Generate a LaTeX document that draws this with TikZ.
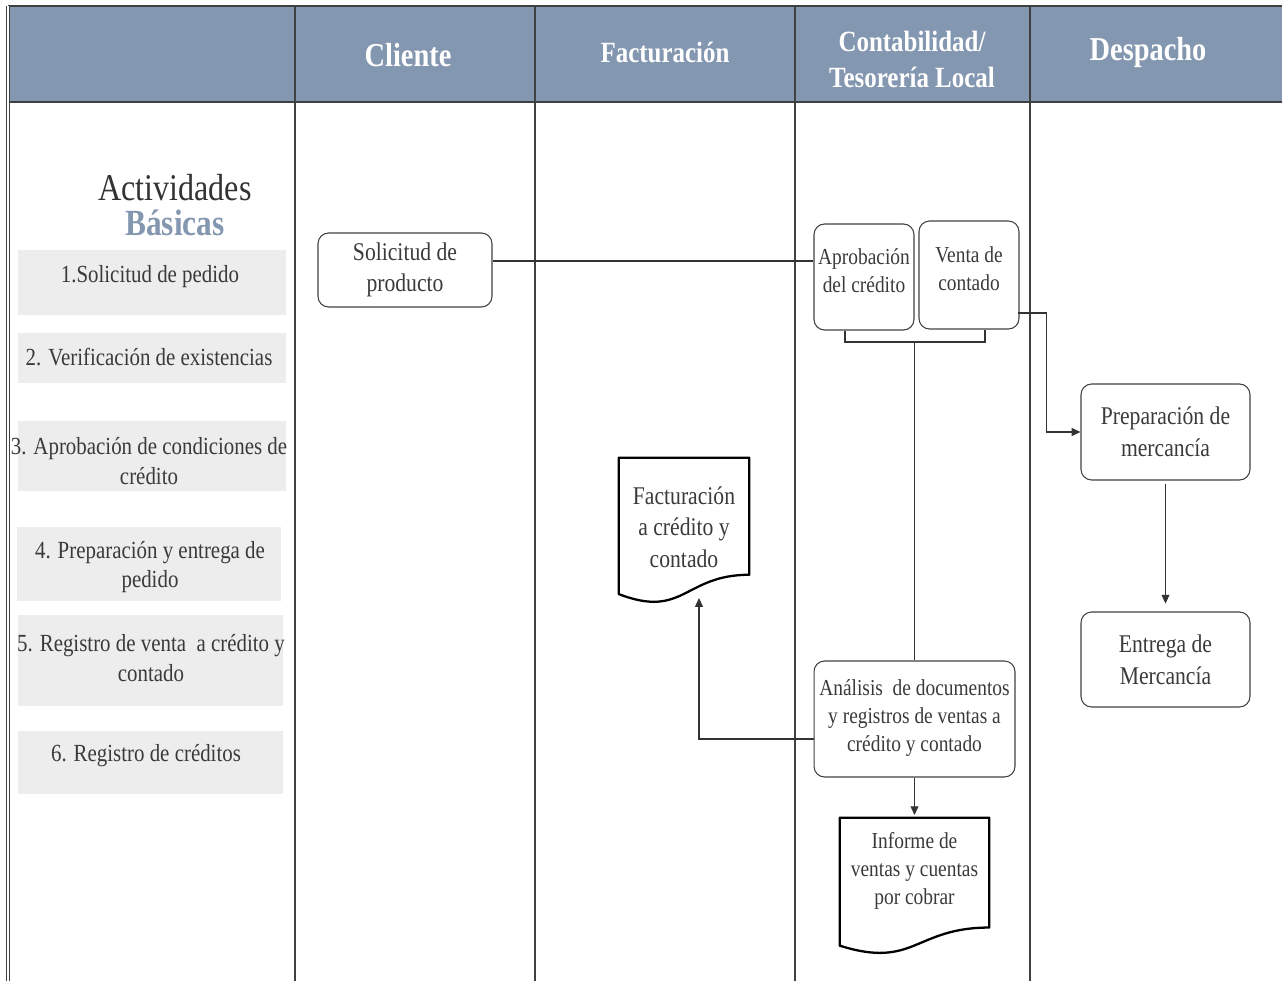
\documentclass[tikz,border=0pt]{standalone}
\usepackage{fontspec}
\setmainfont{Liberation Serif}[FakeStretch=0.85]
\usepackage{xcolor}
\usepackage{tikz}
\usetikzlibrary{
	arrows.meta,
	calc,
	positioning
}
\definecolor{hdrblue}{HTML}{8497B0}
\definecolor{actgray}{HTML}{EDEDED}
\definecolor{linegray}{HTML}{404040}
\definecolor{txtgray}{HTML}{3A3A3A}

\newcommand\docpath[2]{%
	\draw[docline] (#1.north west) -- (#1.north east) -- ($(#1.north east)+(0,0.802*#2)$)
		.. controls ($(#1.north)+(0,0.802*#2)$) and ($(#1.north)+(0,1.107*#2)$) .. ($(#1.north west)+(0,0.934*#2)$) -- cycle;}

\begin{document}
\begin{tikzpicture}[x=0.02cm, y=-0.02cm,
		frame/.style={linegray, line width=1.2pt},
		hdr/.style={text=white, align=center, font=\bfseries\fontsize{16.7}{20.5}\selectfont},
		hdrbig/.style={hdr, font=\bfseries\fontsize{19}{22}\selectfont},
		acttext/.style={text=txtgray, align=center, inner sep=0pt, font=\fontsize{14}{17}\selectfont},
		proc/.style={draw=black!75, line width=0.6pt, rounded corners=6pt, align=center, text=txtgray, inner sep=2pt},
		big/.style={font=\fontsize{14.5}{18}\selectfont},
		small/.style={font=\fontsize{13}{16}\selectfont},
		doc/.style={align=center, text=txtgray, inner sep=0pt},
		docline/.style={draw=black, line width=1.3pt, line join=round},
		link/.style={draw=black!80, line width=0.6pt},
		arrow/.style={link, -{Triangle[length=5pt,width=4.5pt]}}]
		\useasboundingbox (0,0) rectangle (1282,981);
		\fill[hdrblue] (8,6) rectangle (1282,102);
		\draw[frame] (8,6) -- (1282,6);
		\draw[frame] (8,102) -- (1282,102);
		\foreach \cx in {295,535,795,1030}
			\draw[frame] (\cx,6) -- (\cx,981);
		\draw[linegray, double, double distance=1.2pt, line width=0.8pt] (8,6) -- (8,981);
		\node[hdrbig] (hcli) at (408,55) {Cliente};
		\node[hdr] (hfac) at (665,52) {Facturación};
		\node[hdr] (hcon) at (912,59) {Contabilidad/\\Tesorería Local};
		\node[hdrbig] (hdes) at (1148,52) {Despacho};
		\node[text=black!80, font=\fontsize{21.5}{24}\selectfont] (tact) at (175,188) {Actividades};
		\node[text=hdrblue, font=\bfseries\fontsize{21}{24}\selectfont] (tbas) at (175,223) {Básicas};
		\fill[actgray] (18,250) rectangle (286,315);
		\fill[actgray] (18,333) rectangle (286,383);
		\fill[actgray] (18,421) rectangle (286,491);
		\fill[actgray] (17,527) rectangle (281,601);
		\fill[actgray] (18,615) rectangle (283,706);
		\fill[actgray] (18,731) rectangle (283,794);
		\node[acttext] (act1) at (150,277) {1.Solicitud de pedido};
		\node[acttext] (act2) at (149,357) {2. Verificación de existencias};
		\node[acttext] (act3) at (149,461) {3. Aprobación de condiciones de\\crédito};
		\node[acttext] (act4) at (150,567) {4. Preparación y entrega de\\pedido};
		\node[acttext] (act5) at (151,658) {5. Registro de venta \ a crédito y\\contado};
		\node[acttext] (act6) at (146,756) {6. Registro de créditos};
		\node[proc, big, minimum width=3.48cm, minimum height=1.48cm] (sol) at (405,270) {Solicitud de\\producto};
		\node[proc, small, minimum width=2cm, minimum height=2.12cm] (apr) at (864,277) {Aprobación\\del crédito\\[-9pt]};
		\node[proc, small, minimum width=2cm, minimum height=2.16cm] (ven) at (969,275) {Venta de\\contado\\[-9pt]};
		\node[proc, big, minimum width=3.38cm, minimum height=1.92cm] (prep) at (1165.5,432) {Preparación de\\mercancía};
		\node[proc, big, minimum width=3.38cm, minimum height=1.9cm] (ent) at (1165.5,659.5) {Entrega de\\Mercancía};
		\node[proc, small, minimum width=4.02cm, minimum height=2.32cm] (ana) at (914.5,719) {\mbox{}\\[-8pt]Análisis \ de documentos\\y registros de ventas a\\crédito y contado};
		\node[doc, big, minimum width=2.6cm, minimum height=2.76cm] (fac) at (684,527) {Facturación\\a crédito y\\contado};
		\docpath{fac}{146}
		\node[doc, small, minimum width=2.98cm, minimum height=2.12cm] (inf) at (914.5,871) {Informe de\\ventas y cuentas\\por cobrar};
		\docpath{inf}{137}
		\coordinate (brl) at (845,342);
		\coordinate (brr) at (985,342);
		\coordinate (facin) at (699,598);
		\draw[link] (sol.east) ++(0,-9) coordinate (s1) -- (s1 -| apr.west);
		\draw[link] (apr.south -| brl) -- (brl) -- (brr) -- (ven.south -| brr);
		\draw[link] (ana.north |- brl) -- (ana.north);
		\draw[arrow] (ven.east) ++(-2,38) -- ++(29,0) |- (prep.west);
		\draw[arrow, shorten <=2pt, shorten >=4.5pt] (prep.south) -- (ent.north);
		\draw[arrow] (ana.west) ++(0,20) -| (facin);
		\draw[arrow, shorten >=1.5pt] (ana.south) -- (inf.north);
	\end{tikzpicture}
\end{document}
